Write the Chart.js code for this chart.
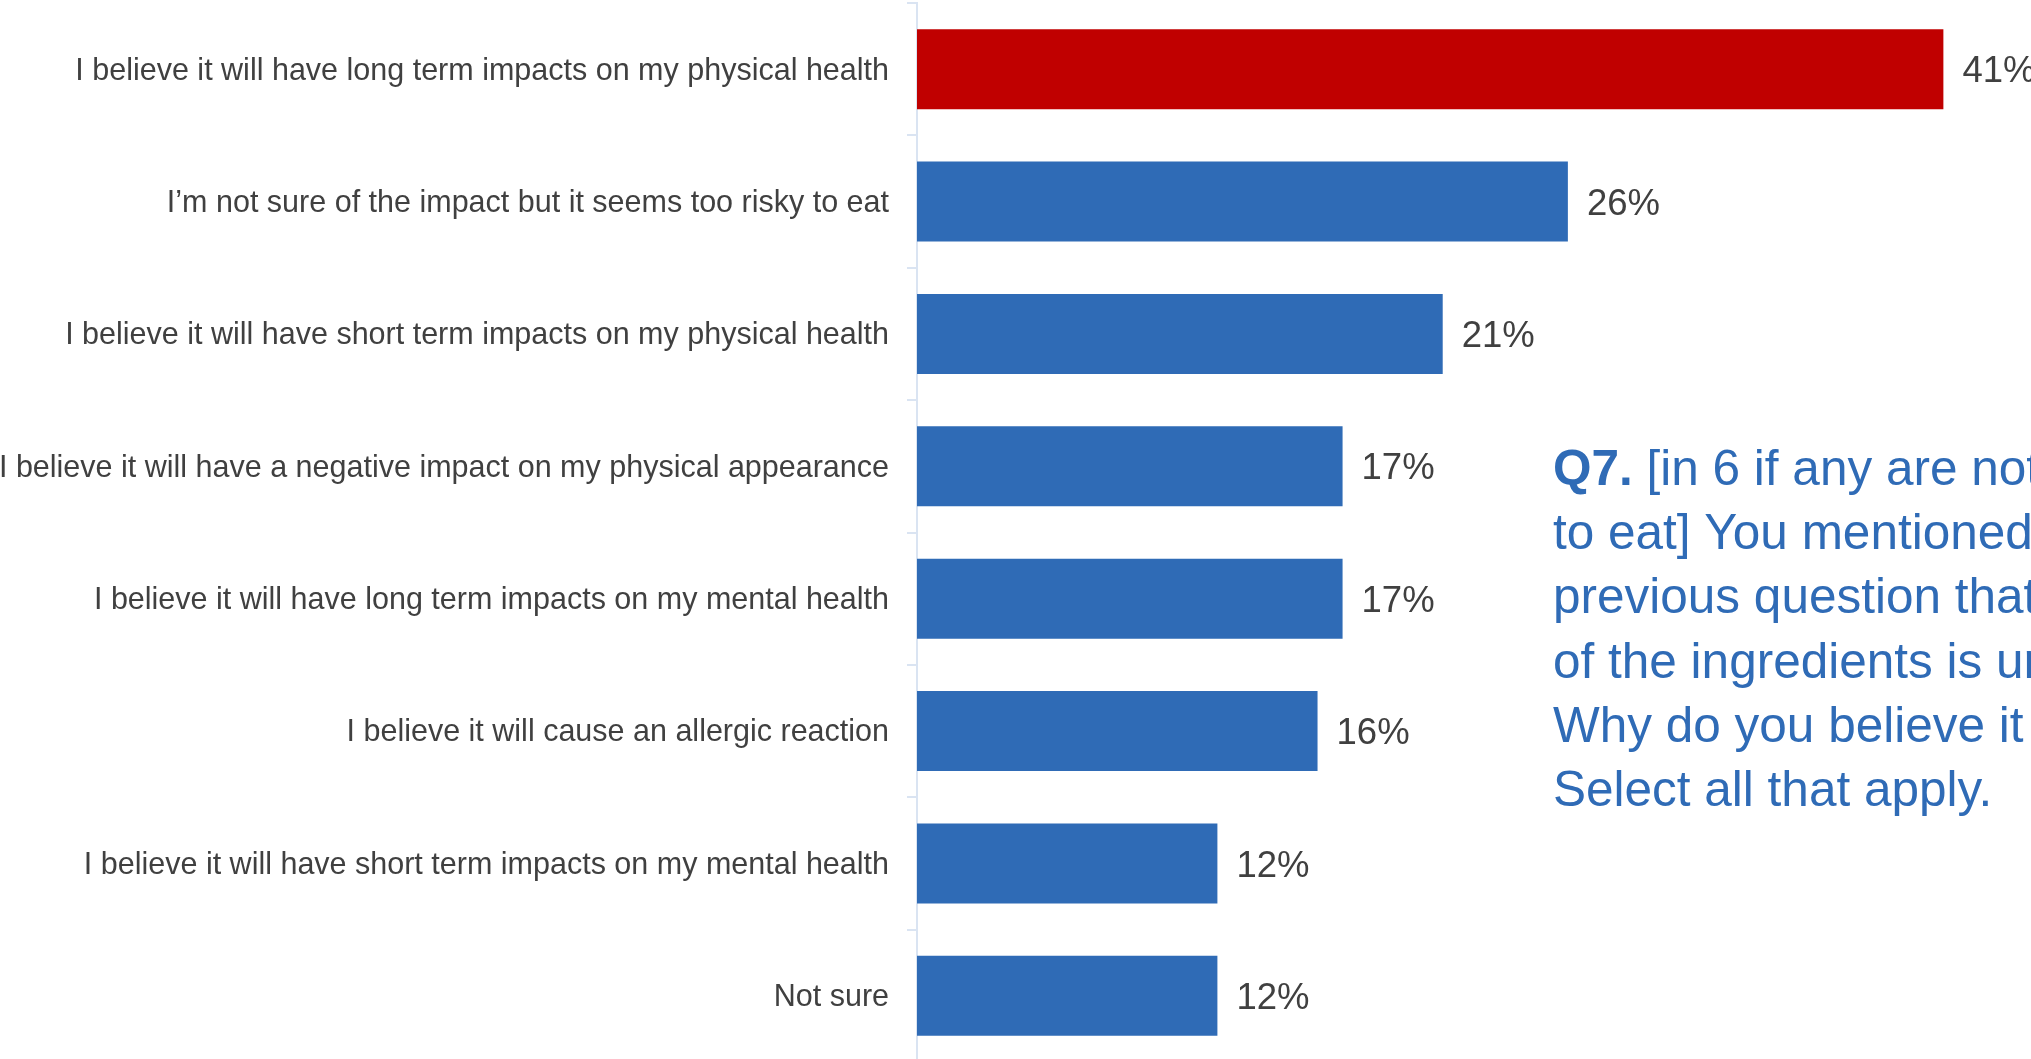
<!DOCTYPE html>
<html>
<head>
<meta charset="utf-8">
<title>Q7 reasons</title>
<script src="https://cdn.jsdelivr.net/npm/chart.js@4.4.1/dist/chart.umd.min.js"></script>
<style>
  html, body { margin: 0; padding: 0; background: #fff; overflow: hidden; height: 1059px; }
  canvas { display: block; }
</style>
</head>
<body>
<!-- a touch taller than the window: the last row runs past the bottom edge -->
<canvas id="q7Chart" width="2031" height="1062"></canvas>
<script>
// answers, top to bottom
var categories = [
    'I believe it will have long term impacts on my physical health',
    'I\u2019m not sure of the impact but it seems too risky to eat',
    'I believe it will have short term impacts on my physical health',
    'I believe it will have a negative impact on my physical appearance',
    'I believe it will have long term impacts on my mental health',
    'I believe it will cause an allergic reaction',
    'I believe it will have short term impacts on my mental health',
    'Not sure'
];
var values = [41, 26, 21, 17, 17, 16, 12, 12];

var questionBold = 'Q7.';
var questionLines = [
    ' [in 6 if any are not safe',
    'to eat] You mentioned in the',
    'previous question that one',
    'of the ingredients is unsafe.',
    'Why do you believe it is unsafe?',
    'Select all that apply.'
];

var blue = '#2F6BB6';
var red = '#C00000';
var grey = '#404040';
var axisColor = '#DAE4F2';

var barColors = values.map((v, i) => i === 0 ? red : blue);

// percent labels at the end of each bar
var valueLabels = {
    id: 'valueLabels',
    afterDatasetsDraw: function(chart) {
        var ctx = chart.ctx;
        var meta = chart.getDatasetMeta(0);
        ctx.save();
        ctx.font = '36.5px "Liberation Sans", Arial, sans-serif';
        ctx.fillStyle = grey;
        ctx.textAlign = 'left';
        ctx.textBaseline = 'middle';
        meta.data.forEach(function(bar, i) {
            ctx.fillText(values[i] + '%', bar.x + 19, bar.y + 3);
        });
        ctx.restore();
    }
};

// question text on the right
var questionText = {
    id: 'questionText',
    afterDraw: function(chart) {
        var ctx = chart.ctx;
        var x = 1553, y = 485, lineH = 64.2;
        ctx.save();
        ctx.fillStyle = blue;
        ctx.textBaseline = 'alphabetic';
        ctx.font = 'bold 49.5px "Liberation Sans", Arial, sans-serif';
        ctx.fillText(questionBold, x, y);
        var w = ctx.measureText(questionBold).width;
        ctx.font = '49.5px "Liberation Sans", Arial, sans-serif';
        ctx.fillText(questionLines[0], x + w, y);
        for (var i = 1; i < questionLines.length; i++) {
            ctx.fillText(questionLines[i], x, y + i * lineH);
        }
        ctx.restore();
    }
};

var ctx = document.getElementById('q7Chart').getContext('2d');
var myChart = new Chart(ctx, {
    type: 'bar',
    data: {
        labels: categories,
        datasets: [{
            data: values,
            backgroundColor: barColors,
            borderWidth: 0,
            barPercentage: 0.605,
            categoryPercentage: 1
        }]
    },
    options: {
        indexAxis: 'y',
        responsive: false,
        animation: false,
        layout: {
            padding: { top: 3, right: 0, bottom: 0, left: 0 }
        },
        plugins: {
            legend: { display: false },
            tooltip: { enabled: false }
        },
        scales: {
            x: {
                display: false,
                min: 0,
                max: 44.5
            },
            y: {
                afterFit: function(scale) {
                    // fixed label column, and no extra room above/below the bars
                    scale.width = 917;
                    scale.paddingTop = 0;
                    scale.paddingBottom = 0;
                },
                grid: {
                    offset: true,
                    drawOnChartArea: false,
                    tickLength: 10,
                    color: axisColor,
                    lineWidth: 2
                },
                border: {
                    color: axisColor,
                    width: 2
                },
                ticks: {
                    padding: 18,
                    labelOffset: 2,
                    color: grey,
                    font: { family: '"Liberation Sans", Arial, sans-serif', size: 30.5 }
                }
            }
        }
    },
    plugins: [valueLabels, questionText]
});
</script>
</body>
</html>
